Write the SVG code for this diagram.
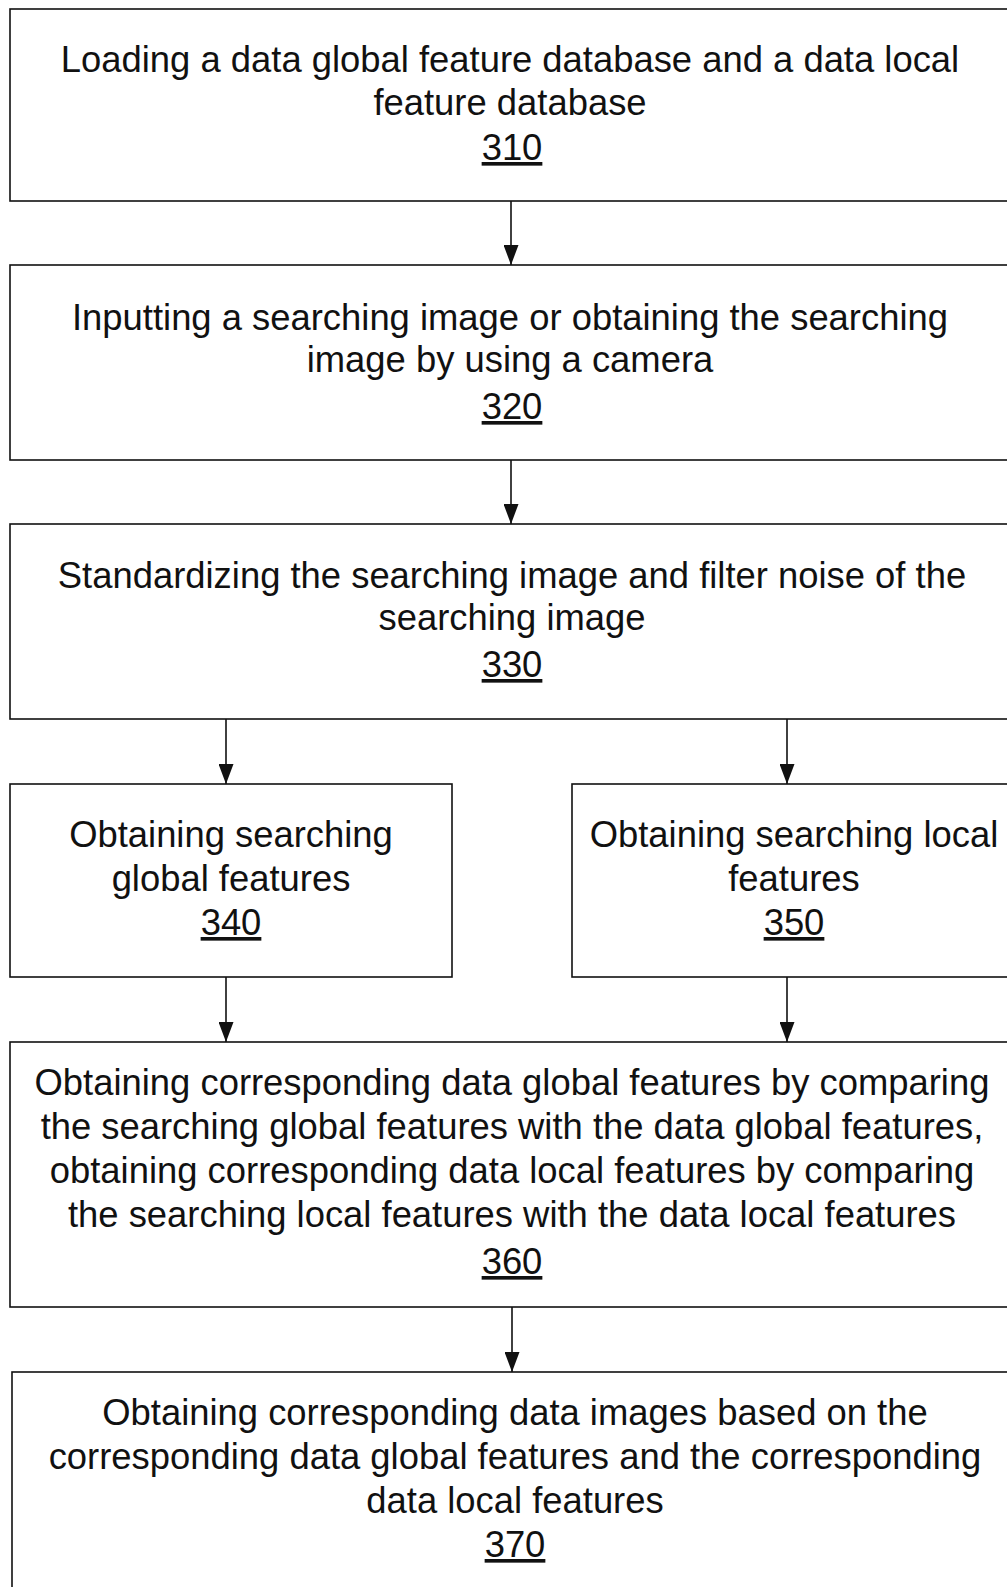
<svg xmlns="http://www.w3.org/2000/svg" width="1007" height="1587" viewBox="0 0 1007 1587">
<style>
.box{fill:#fff;stroke:#111;stroke-width:1.6}
.t{font-family:"Liberation Sans",Arial,sans-serif;font-size:36.4px;fill:#111;text-anchor:middle}
.n{text-decoration:underline}
.c{stroke:#111;stroke-width:1.6;fill:none}
</style>
<defs>
<marker id="ah" markerWidth="20" markerHeight="15" refX="20" refY="7.5" orient="auto" markerUnits="userSpaceOnUse" viewBox="0 0 20 15">
<path d="M0,0 L20,7.5 L0,15 Z" fill="#111"/>
</marker>
</defs>
<rect width="1007" height="1587" fill="#fff"/>
<g id="n310">
<rect class="box" x="10" y="9" width="1010" height="192"/>
<text class="t" x="510" y="72">Loading a data global feature database and a data local</text>
<text class="t" x="510" y="115">feature database</text>
<text class="t n" x="512" y="160">310</text>
</g>
<g id="n320">
<rect class="box" x="10" y="265" width="1010" height="195"/>
<text class="t" x="510" y="330">Inputting a searching image or obtaining the searching</text>
<text class="t" x="510" y="372">image by using a camera</text>
<text class="t n" x="512" y="419">320</text>
</g>
<g id="n330">
<rect class="box" x="10" y="524" width="1010" height="195"/>
<text class="t" x="512" y="588">Standardizing the searching image and filter noise of the</text>
<text class="t" x="512" y="630">searching image</text>
<text class="t n" x="512" y="677">330</text>
</g>
<g id="n340">
<rect class="box" x="10" y="784" width="442" height="193"/>
<text class="t" x="231" y="847">Obtaining searching</text>
<text class="t" x="231" y="891">global features</text>
<text class="t n" x="231" y="935">340</text>
</g>
<g id="n350">
<rect class="box" x="572" y="784" width="450" height="193"/>
<text class="t" x="794" y="847">Obtaining searching local</text>
<text class="t" x="794" y="891">features</text>
<text class="t n" x="794" y="935">350</text>
</g>
<g id="n360">
<rect class="box" x="10" y="1042" width="1010" height="265"/>
<text class="t" x="512" y="1095">Obtaining corresponding data global features by comparing</text>
<text class="t" x="512" y="1139">the searching global features with the data global features,</text>
<text class="t" x="512" y="1183">obtaining corresponding data local features by comparing</text>
<text class="t" x="512" y="1227">the searching local features with the data local features</text>
<text class="t n" x="512" y="1274">360</text>
</g>
<g id="n370">
<rect class="box" x="12" y="1372" width="1010" height="230"/>
<text class="t" x="515" y="1425">Obtaining corresponding data images based on the</text>
<text class="t" x="515" y="1469">corresponding data global features and the corresponding</text>
<text class="t" x="515" y="1513">data local features</text>
<text class="t n" x="515" y="1557">370</text>
</g>
<g id="connectors">
<line class="c" x1="511" y1="201" x2="511" y2="265" marker-end="url(#ah)"/>
<line class="c" x1="511" y1="460" x2="511" y2="524" marker-end="url(#ah)"/>
<line class="c" x1="226" y1="719" x2="226" y2="784" marker-end="url(#ah)"/>
<line class="c" x1="787" y1="719" x2="787" y2="784" marker-end="url(#ah)"/>
<line class="c" x1="226" y1="977" x2="226" y2="1042" marker-end="url(#ah)"/>
<line class="c" x1="787" y1="977" x2="787" y2="1042" marker-end="url(#ah)"/>
<line class="c" x1="512" y1="1307" x2="512" y2="1372" marker-end="url(#ah)"/>
</g>
</svg>
